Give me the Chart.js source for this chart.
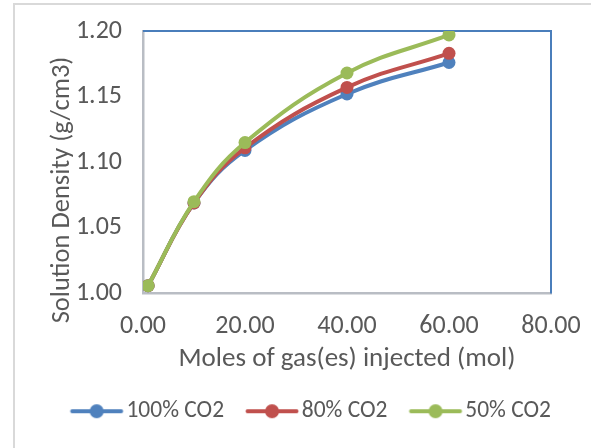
<!DOCTYPE html>
<html>
<head>
<meta charset="utf-8">
<script src="https://cdn.jsdelivr.net/npm/chart.js@4.4.1/dist/chart.umd.min.js"></script>
<style>
  html, body { margin: 0; padding: 0; background: #fff; }
  #wrap { width: 591px; height: 448px; position: relative; }
</style>
</head>
<body>
<div id="wrap"><canvas id="density" width="591" height="448"></canvas></div>
<script>
// ── Data ──────────────────────────────────────────────────────
const molesInjected = [1, 10, 20, 40, 60];
const density100 = [1.006, 1.069, 1.109, 1.152, 1.176];
const density80  = [1.006, 1.069, 1.111, 1.157, 1.183];
const density50  = [1.006, 1.070, 1.115, 1.168, 1.197];
const seriesNames = ['100% CO2', '80% CO2', '50% CO2'];
const xTicks = [0, 20, 40, 60, 80];
const yTicks = [1.00, 1.05, 1.10, 1.15, 1.20];
const xTitle = 'Moles of gas(es) injected (mol)';
const yTitle = 'Solution Density (g/cm3)';

const COLORS = ['#4f81bd', '#c0504d', '#9bbb59'];
const FONT = 'Carlito, Calibri, Lato, sans-serif';
const TEXT = '#595959';

const toPoints = ys => molesInjected.map((x, i) => ({ x, y: ys[i] }));

// legend swatch: short line with a round marker, like Excel.
// drawn off-centre in a wider image so the gap to the text is tight
function swatch(color) {
  const c = document.createElement('canvas');
  c.width = 100; c.height = 16;
  const g = c.getContext('2d');
  g.strokeStyle = color; g.lineWidth = 4; g.lineCap = 'round';
  g.beginPath(); g.moveTo(37.5, 8); g.lineTo(86.5, 8); g.stroke();
  g.fillStyle = color;
  g.beginPath(); g.arc(62, 8, 7, 0, Math.PI * 2); g.fill();
  return c;
}

// outer chart border, blue top/right plot border, y title
const framePlugin = {
  id: 'frame',
  beforeDraw(chart) {
    const ctx = chart.ctx;
    ctx.save();
    ctx.strokeStyle = '#d9d9d9'; ctx.lineWidth = 2;
    ctx.beginPath();
    ctx.moveTo(14, 448); ctx.lineTo(14, 4); ctx.lineTo(591, 4);
    ctx.stroke();
    // y axis title sits a bit below the plot centre in the reference
    ctx.translate(62, 190);
    ctx.rotate(-Math.PI / 2);
    ctx.fillStyle = TEXT;
    ctx.font = `26.5px ${FONT}`;
    ctx.textAlign = 'center'; ctx.textBaseline = 'middle';
    ctx.fillText(yTitle, 0, 0);
    ctx.restore();
  },
  beforeDatasetsDraw(chart) {
    const { ctx, chartArea: a } = chart;
    ctx.save();
    ctx.strokeStyle = '#4a7ebb'; ctx.lineWidth = 2;
    ctx.beginPath();
    ctx.moveTo(a.left, a.top); ctx.lineTo(a.right, a.top); ctx.lineTo(a.right, a.bottom);
    ctx.stroke();
    ctx.restore();
  }
};

const datasets = [density100, density80, density50].map((ys, i) => ({
  label: seriesNames[i],
  data: toPoints(ys),
  borderColor: COLORS[i],
  backgroundColor: COLORS[i],
  borderWidth: 4,
  pointRadius: 6.5,
  pointHoverRadius: 6.5,
  pointBorderWidth: 0,
  tension: 0.4,
  order: 2 - i,
}));

new Chart(document.getElementById('density'), {
  type: 'line',
  data: { datasets },
  plugins: [framePlugin],
  options: {
    responsive: false,
    animation: false,
    layout: { padding: { left: 14, right: 34, top: 31, bottom: 15 } },
    plugins: {
      tooltip: { enabled: false },
      legend: {
        position: 'bottom',
        align: 'end',
        labels: {
          color: TEXT,
          font: { family: FONT, size: 23.5 },
          usePointStyle: true,
          pointStyleWidth: 60,
          boxHeight: 16,
          padding: 6,
          generateLabels: chart => chart.data.datasets.map((d, i) => ({
            text: d.label, pointStyle: swatch(COLORS[i]), fontColor: TEXT,
            datasetIndex: i, lineWidth: 0, strokeStyle: 'transparent', fillStyle: 'transparent',
          })),
        },
      },
    },
    scales: {
      x: {
        type: 'linear', min: xTicks[0], max: xTicks[xTicks.length - 1],
        afterBuildTicks: s => { s.ticks = xTicks.map(v => ({ value: v })); },
        grid: { display: false, drawTicks: false },
        border: { display: true, color: '#b9bdc4', width: 2.5 },
        ticks: { color: TEXT, font: { family: FONT, size: 26 }, padding: 17, maxRotation: 0,
                 callback: v => v.toFixed(2) },
        title: { display: true, text: xTitle, color: TEXT,
                 font: { family: FONT, size: 27 }, padding: { top: 4, bottom: 18 } },
        afterFit: s => { s.height = 100; s.paddingLeft = 0; s.paddingRight = 0; },
      },
      y: {
        type: 'linear', min: yTicks[0], max: yTicks[yTicks.length - 1],
        afterBuildTicks: s => { s.ticks = yTicks.map(v => ({ value: v })); },
        grid: { display: false, drawTicks: false },
        border: { display: true, color: '#b9bdc4', width: 2.5 },
        ticks: { color: TEXT, font: { family: FONT, size: 26 }, padding: 21,
                 callback: v => v.toFixed(2) },
        afterFit: s => { s.width = 129; s.paddingTop = 0; s.paddingBottom = 0; },
      },
      // empty strip on the right so the plot ends a little before the legend does
      yPad: {
        position: 'right', display: true,
        grid: { display: false, drawTicks: false },
        border: { display: false },
        ticks: { display: false },
        afterFit: s => { s.width = 6; s.paddingTop = 0; s.paddingBottom = 0; },
      },
    },
  },
});
</script>
</body>
</html>
